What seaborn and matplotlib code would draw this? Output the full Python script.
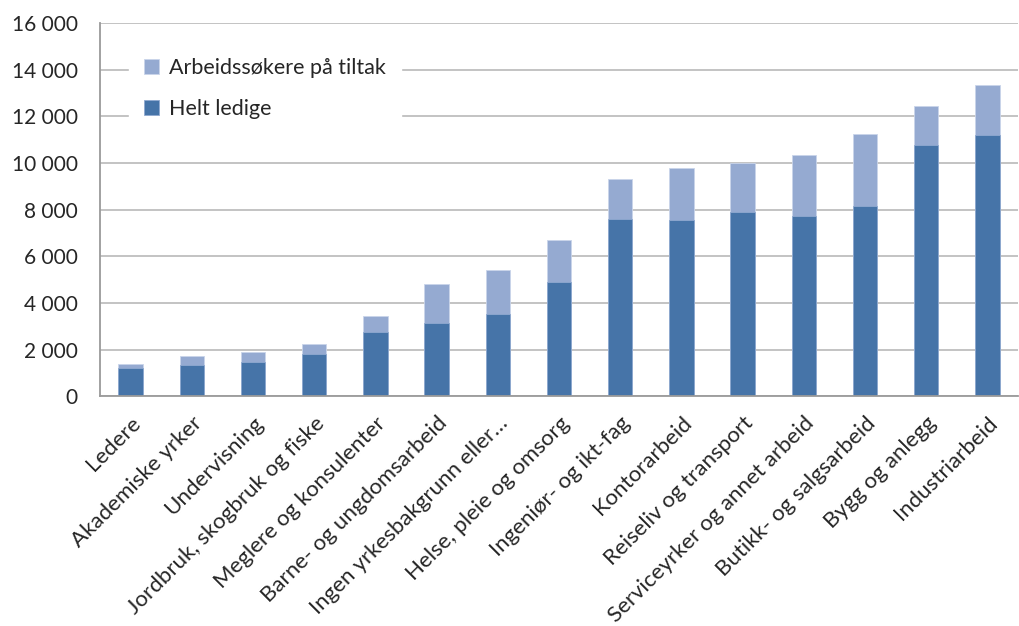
import seaborn as sns
import matplotlib.pyplot as plt
import matplotlib.ticker as mticker
import pandas as pd

kategorier = ["Ledere", "Akademiske yrker", "Undervisning", "Jordbruk, skogbruk og fiske",
              "Meglere og konsulenter", "Barne- og ungdomsarbeid", "Ingen yrkesbakgrunn eller\u2026",
              "Helse, pleie og omsorg", "Ingeniør- og ikt-fag", "Kontorarbeid",
              "Reiseliv og transport", "Serviceyrker og annet arbeid", "Butikk- og salgsarbeid",
              "Bygg og anlegg", "Industriarbeid"]
helt_ledige = [1200, 1350, 1460, 1800, 2770, 3150, 3520, 4900, 7620, 7580, 7910, 7740, 8150, 10790, 11190]
paa_tiltak = [190, 390, 420, 420, 660, 1680, 1880, 1790, 1680, 2190, 2080, 2590, 3090, 1650, 2160]

df = pd.DataFrame({"yrke": kategorier, "helt": helt_ledige, "tiltak": paa_tiltak})
df["total"] = df["helt"] + df["tiltak"]

sns.set_style("white")
plt.rcParams['font.family'] = ['Lato', 'DejaVu Sans']

fig = plt.figure(figsize=(10.2, 6.26), dpi=100)
ax = fig.add_axes([0.098, 0.367, 0.9, 0.596])

lys = "#95AAD1"
mork = "#4674A8"
sns.barplot(data=df, x="yrke", y="total", color=lys, width=0.4, saturation=1,
            edgecolor="#C9D5EA", linewidth=0.6, ax=ax, label="Arbeidssøkere på tiltak")
sns.barplot(data=df, x="yrke", y="helt", color=mork, width=0.4, saturation=1,
            edgecolor="#8FA9D0", linewidth=0.6, ax=ax, label="Helt ledige")

ax.set_ylim(0, 16000)
ax.set_xlim(-0.5, len(kategorier) - 0.5)
ax.yaxis.set_major_locator(mticker.MultipleLocator(2000))
ax.yaxis.set_major_formatter(mticker.FuncFormatter(lambda v, p: f"{int(v):,}".replace(",", " ")))
ax.grid(axis="y", color="#BEBEBE", linewidth=1.3)
ax.set_axisbelow(True)
for s in ["top", "right"]:
    ax.spines[s].set_visible(False)
ax.spines["left"].set_color("#9A9A9A")
ax.spines["bottom"].set_color("#9A9A9A")
ax.spines["left"].set_linewidth(1.3)
ax.spines["bottom"].set_linewidth(1.3)

ax.set_xticks(range(len(kategorier)))
ax.set_xticklabels(kategorier, rotation=45, ha="right", rotation_mode="anchor", fontsize=16)
ax.tick_params(axis="x", length=0, pad=12)
ax.set_xticks([i + 0.5 for i in range(-1, len(kategorier))], minor=True)
ax.tick_params(axis="x", which="minor", length=6, color="#9A9A9A", width=1.3)
ax.tick_params(axis="y", length=0, labelsize=15, pad=16)
ax.set_xlabel("")
ax.set_ylabel("")

leg = ax.legend(loc="upper left", bbox_to_anchor=(0.02, 0.975), frameon=True, fontsize=15.5,
                handlelength=0.7, handleheight=0.7, handletextpad=0.45, labelspacing=0.95,
                borderpad=0.7, fancybox=False)
leg.get_frame().set_edgecolor("white")
leg.get_frame().set_facecolor("white")
leg.get_frame().set_alpha(1)

fig.savefig("out.png", dpi=100)
